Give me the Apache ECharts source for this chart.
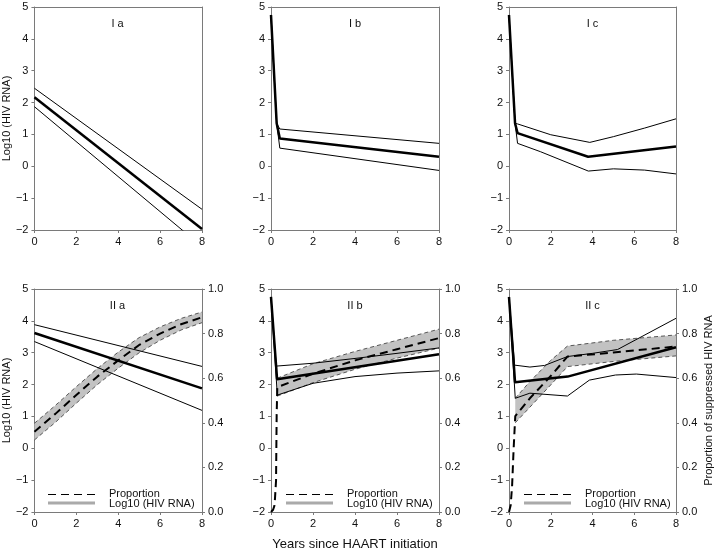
<!DOCTYPE html>
<html><head><meta charset="utf-8">
<script src="https://cdn.jsdelivr.net/npm/echarts@6/dist/echarts.min.js"></script>
<style>html,body{margin:0;padding:0;background:#fff}#c{width:726px;height:552px}</style>
</head><body><div id="c"></div>
<script>
// ---------- labels ----------
const panelLabels = ['I a', 'I b', 'I c', 'II a', 'II b', 'II c'];
const leftAxisName = 'Log10 (HIV RNA)';
const rightAxisName = 'Proportion of suppressed HIV RNA';
const xAxisName = 'Years since HAART initiation';
const legendNames = ['Proportion', 'Log10 (HIV RNA)'];

// ---------- panel I a ----------
const Ia_x = [0, 8];
const Ia_mean = [2.17, -1.97];
const Ia_upper = [2.45, -1.35];
const Ia_lower = [1.87, -2.52];

// ---------- panel I b ----------
const Ib_x = [0, 0.27, 0.42, 8];
const Ib_mean = [4.75, 1.35, 0.87, 0.30];
const Ib_upper = [4.75, 1.35, 1.17, 0.72];
const Ib_lower = [4.75, 1.35, 0.57, -0.13];

// ---------- panel I c ----------
const Ic_meanX = [0, 0.29, 0.41, 3.79, 8];
const Ic_mean = [4.75, 1.35, 1.04, 0.30, 0.62];
const Ic_upperX = [0, 0.29, 0.41, 2, 3.87, 5, 6.5, 8];
const Ic_upper = [4.75, 1.35, 1.33, 0.99, 0.75, 0.93, 1.20, 1.49];
const Ic_lowerX = [0, 0.29, 0.41, 1.5, 3.8, 5, 6.5, 8];
const Ic_lower = [4.75, 1.35, 0.72, 0.46, -0.15, -0.08, -0.12, -0.24];

// ---------- panel II a ----------
const IIa_x = [0, 8];
const IIa_mean = [3.62, 1.88];
const IIa_upper = [3.88, 2.57];
const IIa_lower = [3.35, 1.19];
const IIa_propX = [0, 1, 2, 3, 4, 5, 6, 7, 8];
const IIa_prop = [0.36, 0.44, 0.525, 0.607, 0.68, 0.749, 0.80, 0.842, 0.873];
const IIa_propUp = [0.398, 0.478, 0.562, 0.643, 0.717, 0.782, 0.83, 0.868, 0.897];
const IIa_propLo = [0.323, 0.402, 0.488, 0.571, 0.645, 0.714, 0.77, 0.816, 0.849];

// ---------- panel II b ----------
const IIb_meanX = [0, 0.29, 8];
const IIb_mean = [4.75, 2.17, 2.95];
const IIb_upperX = [0, 0.25, 2, 4, 6, 8];
const IIb_upper = [4.75, 2.58, 2.67, 2.82, 2.98, 3.15];
const IIb_lowerX = [0, 0.3, 2, 4, 6, 8];
const IIb_lower = [4.75, 1.67, 2.04, 2.25, 2.36, 2.43];
const IIb_propX = [0, 0.1, 0.17, 0.24, 0.27, 0.3, 2, 4, 6, 8];
const IIb_prop = [0, 0.01, 0.03, 0.14, 0.44, 0.56, 0.62, 0.68, 0.73, 0.78];
const IIb_bandX = [0.3, 2, 4, 6, 8];
const IIb_propUp = [0.60, 0.665, 0.72, 0.77, 0.82];
const IIb_propLo = [0.52, 0.58, 0.64, 0.69, 0.735];

// ---------- panel II c ----------
const IIc_meanX = [0, 0.29, 2.81, 8];
const IIc_mean = [4.75, 2.07, 2.25, 3.17];
const IIc_upperX = [0, 0.27, 1.0, 1.7, 2.8, 4.0, 5.2, 8];
const IIc_upper = [4.75, 2.61, 2.55, 2.60, 2.88, 2.98, 3.10, 4.08];
const IIc_lowerX = [0, 0.3, 1.0, 2.8, 3.85, 5.1, 6.1, 8];
const IIc_lower = [4.75, 1.57, 1.73, 1.64, 2.14, 2.30, 2.33, 2.22];
const IIc_propX = [0, 0.08, 0.15, 0.22, 0.3, 1, 2, 2.8, 5, 8];
const IIc_prop = [0, 0.03, 0.12, 0.28, 0.43, 0.51, 0.61, 0.697, 0.715, 0.742];
const IIc_bandX = [0.3, 1, 2, 2.8, 5, 8];
const IIc_propUp = [0.51, 0.585, 0.68, 0.744, 0.77, 0.794];
const IIc_propLo = [0.40, 0.47, 0.57, 0.652, 0.675, 0.70];

// ---------- layout ----------
const FONT = 'Liberation Sans, Arial, sans-serif';
const gridLefts = [33, 271, 509];
const gridWidths = [169, 168, 167];
const rowTops = [7, 289];
const gridH = 223;
const AX = '#7a7a7a';
const minus = v => String(v).replace('-', '\u2212');

const zip = (xs, ys) => xs.map((x, i) => [x, ys[i]]);

const grids = [], xAxes = [], yAxes = [], series = [], graphics = [];

for (let g = 0; g < 6; g++) {
  const col = g % 3, row = Math.floor(g / 3);
  const left = gridLefts[col], top = rowTops[row], w = gridWidths[col];
  grids.push({left: left, top: top, width: w, height: gridH, containLabel: false});
  const bottomRow = row === 1;
  xAxes.push({
    gridIndex: g, type: 'value', min: 0, max: 8, interval: 2, position: 'bottom',
    axisLine: {show: true, onZero: false, lineStyle: {color: AX, width: 1}},
    axisTick: {show: true, inside: false, length: 3, lineStyle: {color: AX}},
    axisLabel: {color: '#111', fontSize: 11, fontFamily: FONT, margin: 6},
    splitLine: {show: false},
    name: g === 4 ? xAxisName : '', nameLocation: 'middle', nameGap: 26,
    nameTextStyle: {color: '#111', fontSize: 13, fontFamily: FONT}
  });
  xAxes.push({
    gridIndex: g, type: 'value', min: 0, max: 8, position: 'top',
    axisLine: {show: true, onZero: false, lineStyle: {color: AX, width: 1}},
    axisTick: {show: false}, axisLabel: {show: false}, splitLine: {show: false}
  });
  yAxes.push({
    gridIndex: g, type: 'value', min: -2, max: 5, interval: 1, position: 'left',
    axisLine: {show: true, onZero: false, lineStyle: {color: AX, width: 1}},
    axisTick: {show: true, inside: false, length: 3, lineStyle: {color: AX}},
    axisLabel: {color: '#111', fontSize: 11, fontFamily: FONT, margin: 6, formatter: minus},
    splitLine: {show: false},
    name: (g === 0 || g === 3) ? leftAxisName : '', nameLocation: 'middle', nameGap: 20,
    nameTextStyle: {color: '#111', fontSize: 11, fontFamily: FONT}
  });
  if (bottomRow) {
    yAxes.push({
      gridIndex: g, type: 'value', min: 0, max: 1, interval: 0.2, position: 'right',
      axisLine: {show: true, onZero: false, lineStyle: {color: AX, width: 1}},
      axisTick: {show: true, inside: false, length: 3, lineStyle: {color: AX}},
      axisLabel: {color: '#111', fontSize: 11, fontFamily: FONT, margin: 6,
                  formatter: v => v.toFixed(1)},
      splitLine: {show: false},
      name: g === 5 ? rightAxisName : '', nameLocation: 'middle', nameGap: 27,
      nameRotate: 90,
      nameTextStyle: {color: '#111', fontSize: 11, fontFamily: FONT}
    });
  } else {
    yAxes.push({
      gridIndex: g, type: 'value', min: -2, max: 5, position: 'right',
      axisLine: {show: true, onZero: false, lineStyle: {color: AX, width: 1}},
      axisTick: {show: false}, axisLabel: {show: false}, splitLine: {show: false}
    });
  }
  // panel label
  graphics.push({type: 'text', x: left + w / 2, y: top + 17, silent: true,
    style: {text: panelLabels[g], align: 'center', verticalAlign: 'middle',
            fill: '#111', font: '11px ' + FONT}});
  // legend
  if (bottomRow) {
    const ly1 = top + 205, ly2 = top + 214;
    graphics.push({type: 'line', silent: true,
      shape: {x1: left + 15, y1: ly1 + 0.5, x2: left + 62, y2: ly1 + 0.5},
      style: {stroke: '#000', lineWidth: 1, lineDash: [8, 5]}});
    graphics.push({type: 'line', silent: true,
      shape: {x1: left + 15, y1: ly2, x2: left + 62, y2: ly2},
      style: {stroke: '#aaaaaa', lineWidth: 3}});
    graphics.push({type: 'text', x: left + 76, y: ly1, silent: true,
      style: {text: legendNames[0], align: 'left', verticalAlign: 'middle', fill: '#111', font: '11px ' + FONT}});
    graphics.push({type: 'text', x: left + 76, y: ly2 + 1, silent: true,
      style: {text: legendNames[1], align: 'left', verticalAlign: 'middle', fill: '#111', font: '11px ' + FONT}});
  }
}

function addLine(g, xs, ys, kind, right) {
  let ls;
  if (kind === 'thick') ls = {color: '#000', width: 2.5};
  else if (kind === 'thin') ls = {color: '#000', width: 1};
  else if (kind === 'prop') ls = {color: '#000', width: 2, type: [8, 5]};
  series.push({
    type: 'line', xAxisIndex: 2 * g, yAxisIndex: 2 * g + (right ? 1 : 0),
    data: zip(xs, ys), symbol: 'none', showSymbol: false, clip: true,
    lineStyle: ls, z: kind === 'thin' ? 3 : 4, silent: true, animation: false
  });
}
function addBand(g, xs, lo, hi) {
  const data = xs.map((x, i) => [x, lo[i], hi[i]]);
  series.push({
    type: 'custom', xAxisIndex: 2 * g, yAxisIndex: 2 * g + 1,
    data: data, encode: {x: 0, y: [1, 2]}, clip: true, z: 2, silent: true, animation: false,
    renderItem: function (params, api) {
      if (params.dataIndex !== 0) return null;
      const topPts = data.map(d => api.coord([d[0], d[2]]));
      const botPts = data.map(d => api.coord([d[0], d[1]]));
      const edge = {stroke: '#333', lineWidth: 0.8, lineDash: [4, 3], fill: null};
      return {
        type: 'group',
        children: [
          {type: 'polygon', shape: {points: topPts.concat(botPts.slice().reverse())},
           style: {fill: '#c2c2c2', stroke: null}},
          {type: 'polyline', shape: {points: topPts}, style: edge},
          {type: 'polyline', shape: {points: botPts}, style: edge}
        ]
      };
    }
  });
}

// Top row
addLine(0, Ia_x, Ia_upper, 'thin');
addLine(0, Ia_x, Ia_lower, 'thin');
addLine(0, Ia_x, Ia_mean, 'thick');

addLine(1, Ib_x, Ib_upper, 'thin');
addLine(1, Ib_x, Ib_lower, 'thin');
addLine(1, Ib_x, Ib_mean, 'thick');

addLine(2, Ic_upperX, Ic_upper, 'thin');
addLine(2, Ic_lowerX, Ic_lower, 'thin');
addLine(2, Ic_meanX, Ic_mean, 'thick');

// Bottom row
addBand(3, IIa_propX, IIa_propLo, IIa_propUp);
addLine(3, IIa_x, IIa_upper, 'thin');
addLine(3, IIa_x, IIa_lower, 'thin');
addLine(3, IIa_x, IIa_mean, 'thick');
addLine(3, IIa_propX, IIa_prop, 'prop', true);

addBand(4, IIb_bandX, IIb_propLo, IIb_propUp);
addLine(4, IIb_upperX, IIb_upper, 'thin');
addLine(4, IIb_lowerX, IIb_lower, 'thin');
addLine(4, IIb_meanX, IIb_mean, 'thick');
addLine(4, IIb_propX, IIb_prop, 'prop', true);

addBand(5, IIc_bandX, IIc_propLo, IIc_propUp);
addLine(5, IIc_upperX, IIc_upper, 'thin');
addLine(5, IIc_lowerX, IIc_lower, 'thin');
addLine(5, IIc_meanX, IIc_mean, 'thick');
addLine(5, IIc_propX, IIc_prop, 'prop', true);

const chart = echarts.init(document.getElementById('c'), null, {renderer: 'canvas'});
chart.setOption({
  backgroundColor: '#fff',
  animation: false,
  textStyle: {fontFamily: FONT},
  grid: grids, xAxis: xAxes, yAxis: yAxes, series: series, graphic: graphics
});
</script>
</body></html>
